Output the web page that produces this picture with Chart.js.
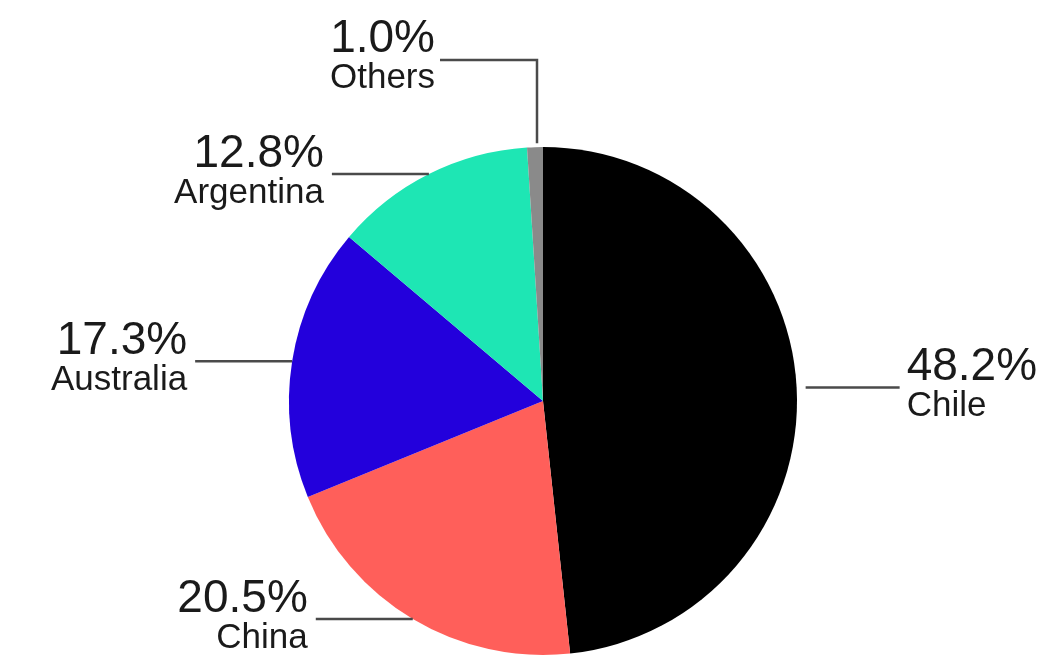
<!DOCTYPE html>
<html>
<head>
<meta charset="utf-8">
<script src="https://cdn.jsdelivr.net/npm/chart.js@4.4.1/dist/chart.umd.min.js"></script>
<style>
  html, body { margin: 0; padding: 0; background: #ffffff; }
  #wrap { width: 1059px; height: 658px; position: relative; }
</style>
</head>
<body>
<div id="wrap"><canvas id="c" width="1059" height="658"></canvas></div>
<script>
const categories = ['Chile', 'China', 'Australia', 'Argentina', 'Others'];
const shares = [48.2, 20.5, 17.3, 12.8, 1.0];
const sliceColors = ['#000000', '#FF5F5A', '#2300DC', '#1EE6B4', '#8A8A8A'];

const PCT_FONT = '46px "Liberation Sans", Arial, sans-serif';
const NAME_FONT = '35px "Liberation Sans", Arial, sans-serif';
const TEXT_COLOR = '#1a1a1a';
const LINE_COLOR = '#4a4a4a';

const leaderPlugin = {
  id: 'leaders',
  afterDatasetsDraw(chart) {
    const ctx = chart.ctx;
    const meta = chart.getDatasetMeta(0);
    ctx.save();
    ctx.lineWidth = 2.5;
    ctx.strokeStyle = LINE_COLOR;
    ctx.fillStyle = TEXT_COLOR;
    meta.data.forEach((arc, i) => {
      const { x, y, startAngle, endAngle, outerRadius } = arc.getProps(['x','y','startAngle','endAngle','outerRadius'], true);
      const mid = (startAngle + endAngle) / 2;
      const ex = x + Math.cos(mid) * outerRadius;
      const ey = y + Math.sin(mid) * outerRadius;
      const pct = shares[i].toFixed(1) + '%';
      const name = categories[i];
      const isOthers = shares[i] < 2;
      if (isOthers) {
        const topY = 60;
        const lineEnd = ex - 95;
        ctx.beginPath();
        ctx.moveTo(ex + 2, ey - 4);
        ctx.lineTo(ex + 2, topY);
        ctx.lineTo(lineEnd, topY);
        ctx.stroke();
        ctx.textAlign = 'right';
        ctx.textBaseline = 'alphabetic';
        ctx.font = PCT_FONT;
        ctx.fillText(pct, lineEnd - 5, topY - 8);
        ctx.font = NAME_FONT;
        ctx.fillText(name, lineEnd - 5, topY + 28);
        return;
      }
      const right = Math.cos(mid) > 0;
      const start = right ? ex + 9 : ex;
      const end = right ? start + 94 : start - 97;
      ctx.beginPath();
      ctx.moveTo(start, ey);
      ctx.lineTo(end, ey);
      ctx.stroke();
      ctx.textAlign = right ? 'left' : 'right';
      ctx.textBaseline = 'alphabetic';
      const tx = right ? end + 7 : end - 8;
      ctx.font = PCT_FONT;
      ctx.fillText(pct, tx, ey - 7);
      ctx.font = NAME_FONT;
      ctx.fillText(name, tx, ey + 29);
    });
    ctx.restore();
  }
};

new Chart(document.getElementById('c'), {
  type: 'pie',
  data: {
    labels: categories,
    datasets: [{
      data: shares,
      backgroundColor: sliceColors,
      borderWidth: 0,
      hoverOffset: 0
    }]
  },
  options: {
    responsive: false,
    animation: false,
    layout: { padding: { left: 289, right: 262, top: 147, bottom: 3 } },
    plugins: {
      legend: { display: false },
      tooltip: { enabled: false },
      title: { display: false }
    }
  },
  plugins: [leaderPlugin]
});
</script>
</body>
</html>
